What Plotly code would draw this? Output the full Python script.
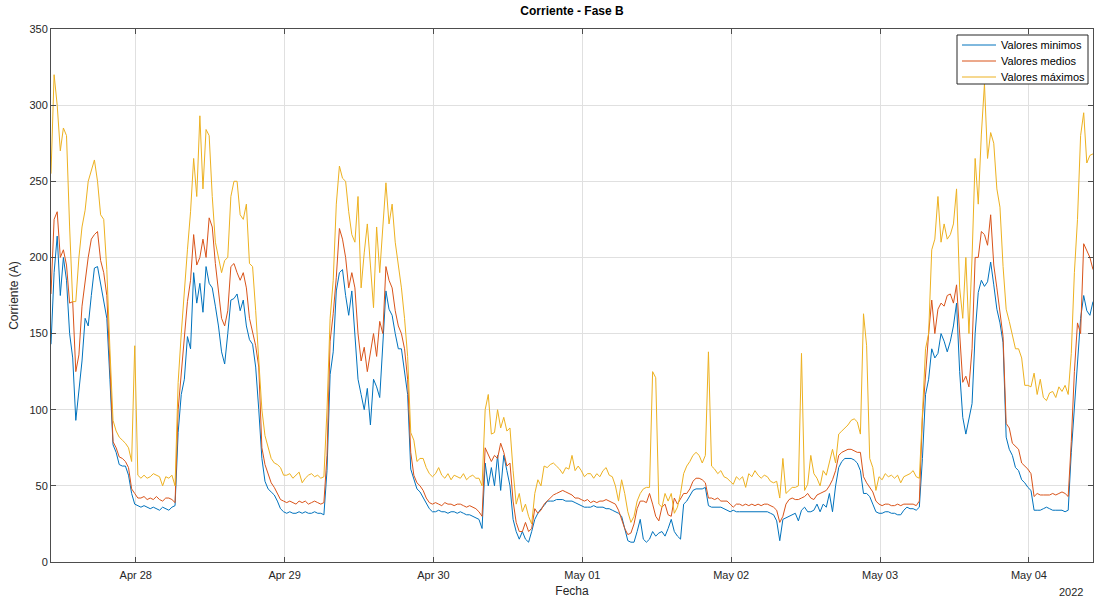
import pandas as pd
import plotly.graph_objects as go

# Half-hourly samples starting 2022-04-27 10:20
start_time = "2022-04-27 10:20"

valores_maximos = [
    255, 320, 300, 270, 285, 280, 220, 171, 171, 200, 220, 231, 250, 258, 264, 250, 228, 225, 192, 140, 93, 86, 82, 80, 78, 75, 66, 142,
    57, 55, 57, 55, 56, 58, 57, 56, 50, 56, 55, 57, 50,
    118, 150, 180, 205, 230, 265, 240, 293, 245, 284, 280, 240, 210, 200, 190, 198,
    200, 240, 250, 250, 228, 225, 235, 196, 194, 165, 130, 100, 83, 75, 68, 65, 64, 62, 57,
    57, 58, 55, 57, 59, 52, 55, 57, 58, 56, 57, 55, 56,
    100, 160, 185, 235, 260, 252, 250, 230, 215, 210, 240, 180, 203, 222, 195, 167, 220, 190, 220, 249, 222, 235, 210, 195,
    180, 160, 135, 85, 80, 66, 68, 68, 62, 58, 56, 58, 62,
    57, 55, 58, 54, 57, 56, 55, 58, 54, 56, 57, 55, 55,
    50, 100, 110, 84, 85, 100, 88, 95, 86, 88, 60, 38, 45, 33, 38, 30, 25, 45, 54, 50, 63, 62, 64, 65, 63, 61, 58, 62, 61, 70,
    60, 63, 60, 56, 58, 58, 55, 58, 56, 60, 62, 57, 56, 50, 40, 54, 45, 33, 26, 30,
    40, 45, 48, 49, 49, 125, 121, 38, 36, 45, 40, 45, 32, 36, 45, 58, 63, 66, 70, 72,
    70, 65, 70, 138, 63, 61, 58, 60, 56, 55, 53, 51, 56, 54, 56, 49,
    58, 56, 60, 57, 55, 57, 56, 53, 52, 53, 42, 68, 45, 47, 49, 49, 50, 137, 47, 51,
    70, 58, 55, 50, 60, 57, 66, 74, 65, 84, 86, 88, 90, 93, 94, 92, 84, 163, 142, 68,
    62, 47, 56, 54, 58, 56, 57, 55, 57, 52, 56, 57, 58, 60, 56, 55,
    95, 140, 150, 205, 212, 240, 210, 222, 212, 215, 222, 245, 180, 160, 200, 150, 200, 265, 235, 281,
    314, 265, 282, 275, 245, 233, 194, 166, 158, 148, 140, 140, 134, 116, 116, 115, 124, 110, 120, 108,
    106, 111, 112, 108, 115, 112, 116, 110, 137, 190, 225, 280, 295, 262, 267, 268,
]

valores_medios = [
    176, 225, 230, 200, 205, 195, 170, 171, 125, 136, 168, 185, 200, 212, 215, 217, 198, 190, 175, 130, 79, 75, 69, 68, 66, 62, 48, 45,
    42, 42, 43, 41, 42, 41, 43, 41, 40, 42, 42, 41, 39,
    100, 125, 150, 171, 185, 215, 195, 200, 212, 200, 226, 220, 196, 178, 160, 155,
    165, 194, 196, 190, 185, 190, 180, 160, 152, 142, 128, 75, 64, 58, 52, 49, 45, 41, 40,
    39, 40, 39, 38, 40, 39, 40, 38, 39, 40, 39, 38, 39,
    70, 145, 163, 187, 219, 212, 200, 180, 190, 180, 150, 132, 141, 125, 139, 150, 135, 158, 150, 194, 185, 180, 165, 155,
    150, 140, 120, 72, 57, 52, 50, 47, 42, 39,
    38, 39, 38, 37, 39, 38, 38, 37, 38, 38, 37, 36, 37, 36, 35, 33,
    30, 75, 70, 66, 70, 68, 78, 72, 63, 65, 40, 26, 20, 20, 26, 20, 22, 35, 32, 34, 38, 40, 42, 44, 45, 46, 47, 46, 45, 44,
    42, 42, 41, 40, 41, 39, 40, 39, 40, 40, 41, 40, 39, 38, 34, 28, 22, 18, 19, 25,
    35, 40, 40, 39, 45, 38, 30, 27, 36, 38, 31, 30, 42, 38, 42, 45, 45, 48, 53, 55,
    55, 54, 52, 42, 42, 41, 42, 40, 40, 40, 38, 36, 38, 38, 37, 38,
    37, 38, 37, 38, 37, 38, 38, 37, 36, 34, 26, 30, 38, 41, 42, 41, 41, 42, 43, 45,
    42, 41, 44, 45, 46, 47, 50, 54, 60, 70, 72, 73, 74, 74, 73, 72, 72, 56, 52, 49,
    46, 40, 38, 37, 38, 38, 37, 37, 38, 37, 38, 38, 38, 38, 37, 40,
    95, 125, 150, 172, 150, 166, 170, 168, 175, 176, 170, 182, 148, 118, 122, 115, 140, 200, 200, 217,
    215, 208, 228, 195, 180, 162, 148, 91, 88, 78, 76, 74, 65, 63, 61, 58, 43, 45, 44, 44,
    44, 44, 45, 44, 45, 46, 45, 43, 79, 125, 157, 150, 209, 205, 200, 192,
]

valores_minimos = [
    143, 190, 214, 175, 200, 185, 150, 134, 93, 112, 132, 160, 155, 175, 193, 194, 183, 170, 160, 120, 77, 72, 64, 63, 63, 57, 45, 38,
    37, 36, 37, 36, 35, 36, 35, 34, 36, 35, 34, 36, 37,
    85, 110, 120, 148, 140, 190, 170, 183, 164, 194, 183, 180, 168, 155, 138, 130,
    150, 172, 173, 176, 165, 172, 155, 146, 143, 128, 100, 68, 53, 48, 46, 44, 40, 35, 33,
    32, 33, 32, 32, 33, 32, 33, 32, 32, 33, 32, 32, 31,
    60, 123, 138, 178, 190, 192, 175, 162, 178, 150, 120, 110, 100, 114, 90, 120, 115, 108, 145, 178, 166, 162, 150, 140,
    140, 125, 110, 61, 54, 48, 46, 42, 38, 35,
    33, 33, 34, 33, 33, 32, 33, 33, 32, 33, 32, 31, 31, 30, 29, 28,
    22, 65, 50, 62, 50, 70, 47, 70, 60, 50, 28, 20, 15, 20, 15, 13, 20, 28, 32, 35, 37, 40, 40, 40, 41, 41, 41, 40, 40, 40,
    39, 38, 37, 36, 36, 36, 37, 36, 36, 36, 35, 35, 34, 33, 32, 30, 22, 14, 13, 13,
    20, 28, 15, 13, 15, 20, 17, 19, 20, 17, 22, 28, 20, 17, 15, 38, 40, 44, 47, 48,
    48, 48, 49, 37, 36, 36, 36, 36, 35, 34, 33, 34, 33, 33, 33, 33,
    33, 33, 33, 33, 33, 33, 33, 32, 31, 27, 14, 28, 29, 30, 31, 32, 27, 34, 36, 33,
    33, 34, 38, 33, 38, 36, 45, 33, 50, 62, 66, 68, 68, 68, 67, 65, 60, 45, 45, 43,
    38, 33, 32, 32, 33, 33, 32, 32, 31, 31, 34, 36, 35, 35, 34, 36,
    68, 110, 120, 140, 134, 137, 150, 145, 138, 145, 155, 170, 125, 95, 84, 95, 104, 150, 177, 185,
    181, 184, 197, 182, 166, 157, 144, 82, 74, 70, 62, 60, 54, 52, 49, 47, 34, 34, 34, 35,
    36, 35, 34, 34, 34, 34, 33, 34, 72, 102, 135, 160, 175, 165, 162, 171,
]

series_names = ["Valores minimos", "Valores medios", "Valores máximos"]
series_colors = ["#0072BD", "#D95319", "#EDB120"]

tick_dates = ["2022-04-28", "2022-04-29", "2022-04-30", "2022-05-01",
              "2022-05-02", "2022-05-03", "2022-05-04"]
tick_labels = ["Apr 28", "Apr 29", "Apr 30", "May 01", "May 02", "May 03", "May 04"]
y_ticks = [0, 50, 100, 150, 200, 250, 300, 350]

times = pd.date_range(start_time, periods=len(valores_maximos), freq="30min")

FONT = "Liberation Sans, Arial, Helvetica, sans-serif"
DARK = "#262626"
AXIS = "#4d4d4d"

fig = go.Figure()
for vals, name, col in zip([valores_minimos, valores_medios, valores_maximos], series_names, series_colors):
    fig.add_trace(go.Scatter(x=times, y=vals, mode="lines", name=name,
                             line=dict(color=col, width=1), showlegend=False))

fig.update_layout(
    width=1095, height=601,
    margin=dict(l=51, r=2, t=29, b=39),
    paper_bgcolor="white", plot_bgcolor="white",
    font=dict(family=FONT, size=11, color=DARK),
    title=dict(text="<b>Corriente - Fase B</b>", x=0.5224, xanchor="center",
               y=0.982, yanchor="middle", font=dict(size=12, color="black")),
    showlegend=False,
)

fig.update_xaxes(
    range=[times[0], times[-1]],
    tickvals=pd.to_datetime(tick_dates), ticktext=tick_labels,
    showgrid=True, gridcolor="#e0e0e0", gridwidth=1,
    showline=True, linecolor=AXIS, linewidth=1, mirror="ticks",
    ticks="inside", ticklen=5, tickcolor=AXIS, ticklabelstandoff=3,
    title=dict(text="Fecha", font=dict(size=12, color=DARK), standoff=6),
    zeroline=False,
)
fig.update_yaxes(
    range=[0, 350], tickvals=y_ticks,
    showgrid=True, gridcolor="#e0e0e0", gridwidth=1,
    showline=True, linecolor=AXIS, linewidth=1, mirror="ticks",
    ticks="inside", ticklen=5, tickcolor=AXIS,
    title=dict(text="Corriente (A)", font=dict(size=12, color=DARK), standoff=8),
    zeroline=False,
)

# Legend box drawn in paper coordinates (MATLAB-style legend)
PW, PH, PL, PB = 1042.0, 533.0, 51.0, 562.0
def px(xp):
    return (xp - PL) / PW
def py(yp):
    return (PB - yp) / PH

fig.add_shape(type="rect", xref="paper", yref="paper",
              x0=px(957), x1=px(1088), y0=py(84), y1=py(35),
              line=dict(color=DARK, width=1), fillcolor="white", layer="above")
for i, (name, col) in enumerate(zip(series_names, series_colors)):
    yy = 45 + 16 * i
    fig.add_shape(type="line", xref="paper", yref="paper",
                  x0=px(962), x1=px(996), y0=py(yy), y1=py(yy),
                  line=dict(color=col, width=1), layer="above")
    fig.add_annotation(text=name, xref="paper", yref="paper", x=px(999), y=py(yy),
                       xanchor="left", yanchor="middle", showarrow=False,
                       font=dict(size=11, color="black"))

fig.add_annotation(text="2022", xref="paper", yref="paper", x=1.0, y=0,
                   xanchor="right", yanchor="top", yshift=-22, xshift=-8,
                   showarrow=False, font=dict(size=11, color=DARK))

fig.write_html("out.html")
